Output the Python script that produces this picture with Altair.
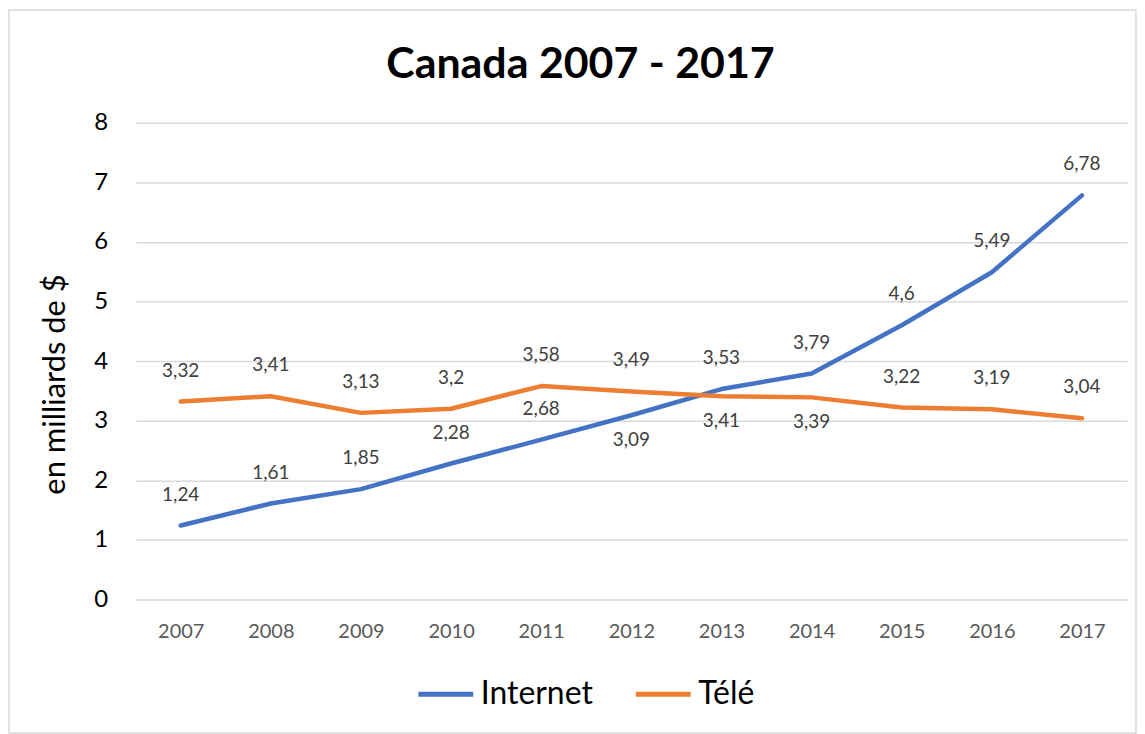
import altair as alt
import pandas as pd

years = ["2007", "2008", "2009", "2010", "2011", "2012", "2013", "2014", "2015", "2016", "2017"]
internet = [1.24, 1.61, 1.85, 2.28, 2.68, 3.09, 3.53, 3.79, 4.6, 5.49, 6.78]
tele = [3.32, 3.41, 3.13, 3.2, 3.58, 3.49, 3.41, 3.39, 3.22, 3.19, 3.04]
series_names = ["Internet", "Télé"]
chart_title = "Canada 2007 - 2017"
# label placement relative to the point (style only)
internet_side = ["above"] * 5 + ["below"] + ["above"] * 5
tele_side = ["above"] * 6 + ["below", "below"] + ["above"] * 3

rows = []
for name, vals, sides in [(series_names[0], internet, internet_side), (series_names[1], tele, tele_side)]:
    for yr, v, s in zip(years, vals, sides):
        rows.append({"year": yr, "value": v, "series": name, "side": s,
                     "label": ("%g" % v).replace(".", ",")})
df = pd.DataFrame(rows)

FONT = "Lato"
W, H = 994, 478

x = alt.X("year:N", sort=years, scale=alt.Scale(type="point", padding=0.5),
          axis=alt.Axis(title=None, labelAngle=0, labelFontSize=20, labelColor="#595959",
                        labelPadding=22, ticks=False, domain=False, grid=False, labelFont=FONT))
y = alt.Y("value:Q", scale=alt.Scale(domain=[0, 8], nice=False),
          axis=alt.Axis(title="en milliards de $", values=[0, 1, 2, 3, 4, 5, 6, 7, 8],
                        labelFontSize=24, labelColor="#000000", labelPadding=28,
                        ticks=False, domain=False, grid=True, gridColor="#d9d9d9", gridWidth=1.5,
                        titleFontSize=31, titleFontWeight="normal", titleColor="#000000",
                        titleFont=FONT, labelFont=FONT,
                        titleX=-80, titleY=262, titleAngle=-90, titleAlign="center",
                        titleBaseline="middle"))

base = alt.Chart(df)

lines = base.mark_line(strokeWidth=4.5, strokeCap="round", strokeJoin="round").encode(
    x=x, y=y,
    color=alt.Color("series:N", sort=series_names,
                    scale=alt.Scale(domain=series_names, range=["#4472C4", "#ED7D31"]),
                    legend=alt.Legend(title=None, orient="none", direction="horizontal",
                                      legendX=281, legendY=543, symbolType="stroke",
                                      symbolSize=3025, symbolStrokeWidth=5,
                                      labelFontSize=32, labelFont=FONT, labelColor="#000000",
                                      labelOffset=5, columnPadding=32, padding=0)),
)

above = base.transform_filter(alt.datum.side == "above").mark_text(
    dy=-31, fontSize=19, font=FONT, color="#404040").encode(x=x, y=y, text="label:N")
below = base.transform_filter(alt.datum.side == "below").mark_text(
    dy=25, fontSize=19, font=FONT, color="#404040").encode(x=x, y=y, text="label:N")

border = alt.Chart(alt.Data(values=[{}])).mark_rect(
    fill=None, stroke="#d9d9d9", strokeWidth=1.5).encode(
    x=alt.value(-127), x2=alt.value(1003), y=alt.value(-113), y2=alt.value(612))

title = alt.Chart(alt.Data(values=[{"t": chart_title}])).mark_text(
    fontSize=43, font=FONT, fontWeight="bold", color="#000000",
    align="center", baseline="alphabetic").encode(
    x=alt.value(446), y=alt.value(-45), text="t:N")

chart = alt.layer(border, title, lines, above, below).properties(
    width=W, height=H,
    autosize=alt.AutoSizeParams(type="none"),
    padding={"left": 128, "top": 114, "right": 10, "bottom": 134},
).configure_view(stroke=None)

chart.save("out.html", embed_options={"renderer": "svg", "actions": False})
